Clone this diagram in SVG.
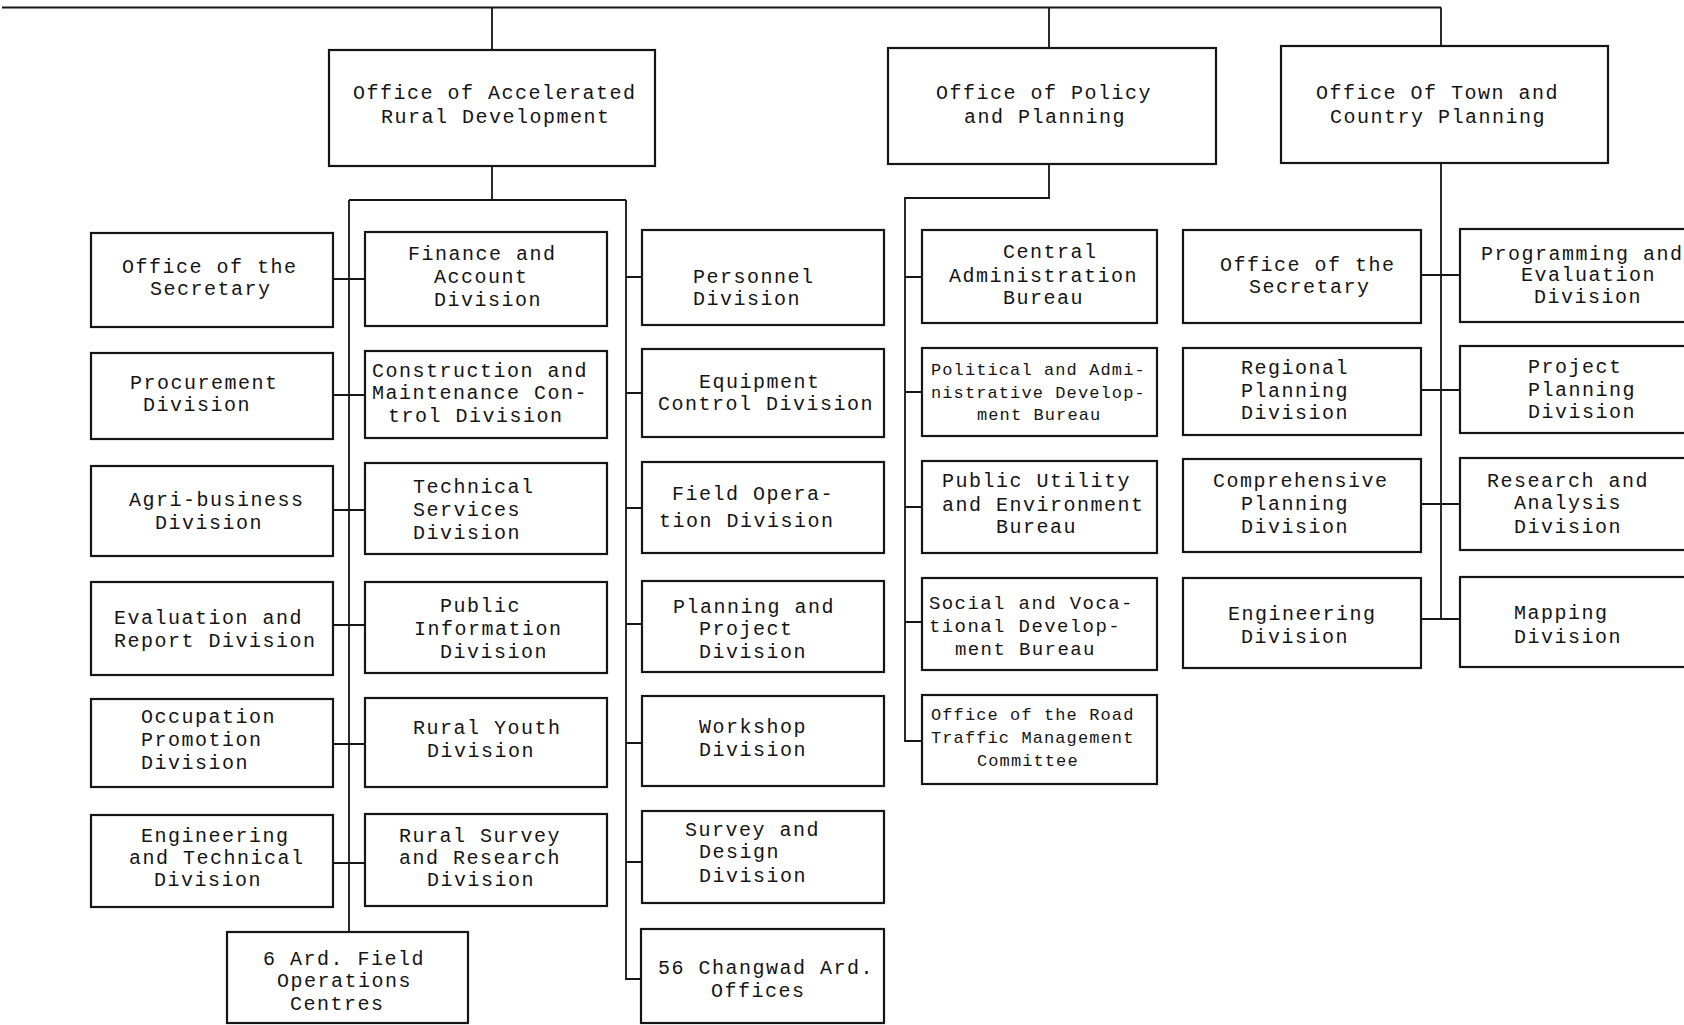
<svg xmlns="http://www.w3.org/2000/svg" width="1684" height="1025" viewBox="0 0 1684 1025">
<style>
.box{fill:#fff;stroke:#151515;stroke-width:2.2}
.c{stroke:#151515;stroke-width:1.8;fill:none}
text{font-family:"Liberation Mono","DejaVu Sans Mono",monospace;font-size:20px;letter-spacing:1.5px;fill:#151515}
.s{font-size:17px;letter-spacing:1.1px}
.m{font-size:19px;letter-spacing:1.4px}
</style>
<rect width="1684" height="1025" fill="#fff"/>
<g id="connectors" class="c">
<path d="M2 7.5H1441M492 7.5V50M1049 7.5V48M1441 7.5V46"/>
<path d="M492 166V200M349 200H626M349 200V932M626 200V979H641"/>
<path d="M333 279H365M333 395H365M333 510H365M333 625H365M333 744H365M333 863H365"/>
<path d="M626 277H642M626 393H642M626 508H642M626 624H642M626 743H642M626 862H642"/>
<path d="M1049 164V198H905V741H922M905 277H922M905 392H922M905 507H922M905 622H922"/>
<path d="M1441 163V619M1421 275H1460M1421 390H1460M1421 504H1460M1421 619H1460"/>
</g>
<g id="ard"><rect class="box" x="329" y="50" width="326" height="116"/><text x="353" y="99">Office of Accelerated</text><text x="381" y="123">Rural Development</text></g>
<g id="policy"><rect class="box" x="888" y="48" width="328" height="116"/><text x="936" y="99">Office of Policy</text><text x="964" y="123">and Planning</text></g>
<g id="town"><rect class="box" x="1281" y="46" width="327" height="117"/><text x="1316" y="99">Office Of Town and</text><text x="1330" y="123">Country Planning</text></g>

<g id="ard-secretary"><rect class="box" x="91" y="233" width="242" height="94"/><text x="122" y="273">Office of the</text><text x="150" y="295">Secretary</text></g>
<g id="procurement"><rect class="box" x="91" y="353" width="242" height="86"/><text x="130" y="389">Procurement</text><text x="143" y="411">Division</text></g>
<g id="agri"><rect class="box" x="91" y="466" width="242" height="90"/><text x="129" y="506">Agri-business</text><text x="155" y="529">Division</text></g>
<g id="evaluation"><rect class="box" x="91" y="582" width="242" height="93"/><text x="114" y="624">Evaluation and</text><text x="114" y="647">Report Division</text></g>
<g id="occupation"><rect class="box" x="91" y="699" width="242" height="88"/><text x="141" y="723">Occupation</text><text x="141" y="746">Promotion</text><text x="141" y="769">Division</text></g>
<g id="eng-tech"><rect class="box" x="91" y="815" width="242" height="92"/><text x="141" y="842">Engineering</text><text x="129" y="864">and Technical</text><text x="154" y="886">Division</text></g>

<g id="finance"><rect class="box" x="365" y="232" width="242" height="94"/><text x="408" y="260">Finance and</text><text x="434" y="283">Account</text><text x="434" y="306">Division</text></g>
<g id="construction"><rect class="box" x="365" y="351" width="242" height="87"/><text x="372" y="377">Construction and</text><text x="372" y="399">Maintenance Con-</text><text x="388" y="422">trol Division</text></g>
<g id="technical"><rect class="box" x="365" y="463" width="242" height="91"/><text x="413" y="493">Technical</text><text x="413" y="516">Services</text><text x="413" y="539">Division</text></g>
<g id="public-info"><rect class="box" x="365" y="582" width="242" height="91"/><text x="440" y="612">Public</text><text x="414" y="635">Information</text><text x="440" y="658">Division</text></g>
<g id="rural-youth"><rect class="box" x="365" y="698" width="242" height="89"/><text x="413" y="734">Rural Youth</text><text x="427" y="757">Division</text></g>
<g id="rural-survey"><rect class="box" x="365" y="814" width="242" height="92"/><text x="399" y="842">Rural Survey</text><text x="399" y="864">and Research</text><text x="427" y="886">Division</text></g>
<g id="field-centres"><rect class="box" x="227" y="932" width="241" height="91"/><text x="263" y="965">6 Ard. Field</text><text x="277" y="987">Operations</text><text x="290" y="1010">Centres</text></g>

<g id="personnel"><rect class="box" x="642" y="230" width="242" height="95"/><text x="693" y="283">Personnel</text><text x="693" y="305">Division</text></g>
<g id="equipment"><rect class="box" x="642" y="349" width="242" height="88"/><text x="699" y="388">Equipment</text><text x="658" y="410">Control Division</text></g>
<g id="field-operation"><rect class="box" x="642" y="462" width="242" height="91"/><text x="672" y="500">Field Opera-</text><text x="659" y="527">tion Division</text></g>
<g id="planning-project"><rect class="box" x="642" y="581" width="242" height="91"/><text x="673" y="613">Planning and</text><text x="699" y="635">Project</text><text x="699" y="658">Division</text></g>
<g id="workshop"><rect class="box" x="642" y="696" width="242" height="90"/><text x="699" y="733">Workshop</text><text x="699" y="756">Division</text></g>
<g id="survey-design"><rect class="box" x="642" y="811" width="242" height="92"/><text x="685" y="836">Survey and</text><text x="699" y="858">Design</text><text x="699" y="882">Division</text></g>
<g id="changwad"><rect class="box" x="641" y="929" width="243" height="94"/><text x="658" y="974">56 Changwad Ard.</text><text x="711" y="997">Offices</text></g>

<g id="central"><rect class="box" x="922" y="230" width="235" height="93"/><text x="1003" y="258">Central</text><text x="949" y="282">Administration</text><text x="1003" y="304">Bureau</text></g>
<g id="political"><rect class="box" x="922" y="348" width="235" height="88"/><text class="s" x="931" y="375">Political and Admi-</text><text class="s" x="931" y="398">nistrative Develop-</text><text class="s" x="977" y="420">ment Bureau</text></g>
<g id="utility"><rect class="box" x="922" y="461" width="235" height="92"/><text x="942" y="487">Public Utility</text><text x="942" y="511">and Environment</text><text x="996" y="533">Bureau</text></g>
<g id="social"><rect class="box" x="922" y="578" width="235" height="92"/><text class="m" x="929" y="609">Social and Voca-</text><text class="m" x="929" y="632">tional Develop-</text><text class="m" x="955" y="655">ment Bureau</text></g>
<g id="road"><rect class="box" x="922" y="695" width="235" height="89"/><text class="s" x="931" y="720">Office of the Road</text><text class="s" x="931" y="743">Traffic Management</text><text class="s" x="977" y="766">Committee</text></g>

<g id="town-secretary"><rect class="box" x="1183" y="230" width="238" height="93"/><text x="1220" y="271">Office of the</text><text x="1249" y="293">Secretary</text></g>
<g id="regional"><rect class="box" x="1183" y="348" width="238" height="87"/><text x="1241" y="374">Regional</text><text x="1241" y="397">Planning</text><text x="1241" y="419">Division</text></g>
<g id="comprehensive"><rect class="box" x="1183" y="459" width="238" height="93"/><text x="1213" y="487">Comprehensive</text><text x="1241" y="510">Planning</text><text x="1241" y="533">Division</text></g>
<g id="engineering"><rect class="box" x="1183" y="578" width="238" height="90"/><text x="1228" y="620">Engineering</text><text x="1241" y="643">Division</text></g>

<g id="programming"><rect class="box" x="1460" y="229" width="260" height="93"/><text x="1481" y="260">Programming and</text><text x="1521" y="281">Evaluation</text><text x="1534" y="303">Division</text></g>
<g id="project"><rect class="box" x="1460" y="346" width="260" height="87"/><text x="1528" y="373">Project</text><text x="1528" y="396">Planning</text><text x="1528" y="418">Division</text></g>
<g id="research"><rect class="box" x="1460" y="458" width="260" height="92"/><text x="1487" y="487">Research and</text><text x="1514" y="509">Analysis</text><text x="1514" y="533">Division</text></g>
<g id="mapping"><rect class="box" x="1460" y="577" width="260" height="90"/><text x="1514" y="619">Mapping</text><text x="1514" y="643">Division</text></g>
</svg>
